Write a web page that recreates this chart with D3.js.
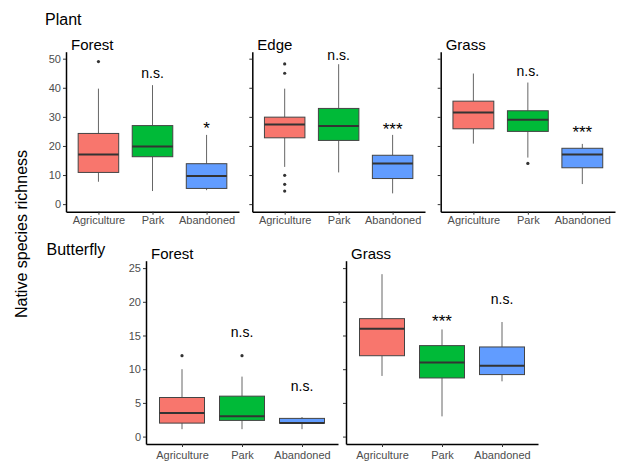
<!DOCTYPE html>
<html>
<head>
<meta charset="utf-8">
<script src="https://cdn.jsdelivr.net/npm/d3@7"></script>
<style>
  body { margin: 0; background: #fff; }
  svg { font-family: "Liberation Sans", Arial, sans-serif; }
</style>
</head>
<body>
<div id="chart"></div>
<script>
var width = 619;
var height = 464;

var groups = ["Agriculture", "Park", "Abandoned"];
var colors = ["#F8766D", "#00BA38", "#619CFF"];

// five numbers per group: lower whisker, q1, median, q3, upper whisker
var plantForestStats = [[7.7, 10.9, 17.1, 24.3, 39.7], [4.5, 16.3, 19.8, 27.0, 40.9], [4.8, 5.4, 9.7, 13.9, 23.8]];
var plantForestOut = [[49], [], []];
var plantForestSig = ["", "n.s.", "*"];
var plantForestSigY = [null, 43.5, 24.2];

var plantEdgeStats = [[12.8, 22.8, 27.4, 29.9, 39.7], [10.9, 21.9, 26.9, 32.9, 48.1], [3.7, 8.8, 14.0, 16.8, 23.8]];
var plantEdgeOut = [[48.2, 45.0, 9.9, 6.8, 4.5], [], []];
var plantEdgeSig = ["", "n.s.", "***"];
var plantEdgeSigY = [null, 49.5, 23.8];

var plantGrassStats = [[20.8, 25.9, 31.5, 35.4, 44.9], [16.0, 25.0, 29.0, 32.1, 41.8], [6.9, 12.5, 17.1, 19.2, 20.7]];
var plantGrassOut = [[], [14.0], []];
var plantGrassSig = ["", "n.s.", "***"];
var plantGrassSigY = [null, 44.1, 22.7];

var butterForestStats = [[1.1, 2.0, 3.5, 5.8, 10.0], [1.1, 2.4, 3.0, 6.0, 8.9], [1.1, 2.0, 2.0, 2.7, 2.9]];
var butterForestOut = [[12], [12], []];
var butterForestSig = ["", "n.s.", "n.s."];
var butterForestSigY = [null, 14.8, 6.7];

var butterGrassStats = [[9.0, 12.0, 16.0, 17.5, 24.1], [3.0, 8.7, 11.0, 13.5, 15.9], [8.2, 9.2, 10.5, 13.3, 17.0]];
var butterGrassOut = [[], [], []];
var butterGrassSig = ["", "***", "n.s."];
var butterGrassSigY = [null, 16.2, 19.7];

var plantTicks = [0, 10, 20, 30, 40, 50];
var butterTicks = [0, 5, 10, 15, 20, 25];

var svg = d3.select("#chart").append("svg")
  .attr("width", width)
  .attr("height", height);

function drawPanel(p) {
  var x = d3.scalePoint().domain(groups).range([p.x0, p.x1]).padding(0.6);
  var y = d3.scaleLinear().domain(p.domain).range([p.y1, p.y0]);
  var bw = x.step() * 0.75;
  var g = svg.append("g");

  var rows = groups.map(function(k, i) {
    return { key: k, s: p.stats[i], out: p.out[i], sig: p.sig[i], sigY: p.sigY[i], col: colors[i] };
  });

  var box = g.selectAll(".box").data(rows).enter().append("g");
  box.append("line")
    .attr("x1", d => x(d.key)).attr("x2", d => x(d.key))
    .attr("y1", d => y(d.s[0])).attr("y2", d => y(d.s[1]))
    .attr("stroke", "#666").attr("stroke-width", 1);
  box.append("line")
    .attr("x1", d => x(d.key)).attr("x2", d => x(d.key))
    .attr("y1", d => y(d.s[3])).attr("y2", d => y(d.s[4]))
    .attr("stroke", "#666").attr("stroke-width", 1);
  box.append("rect")
    .attr("x", d => x(d.key) - bw / 2)
    .attr("width", bw)
    .attr("y", d => y(d.s[3]))
    .attr("height", d => y(d.s[1]) - y(d.s[3]))
    .attr("fill", d => d.col)
    .attr("stroke", "#444").attr("stroke-width", 1);
  box.append("line")
    .attr("x1", d => x(d.key) - bw / 2).attr("x2", d => x(d.key) + bw / 2)
    .attr("y1", d => y(d.s[2])).attr("y2", d => y(d.s[2]))
    .attr("stroke", "#333").attr("stroke-width", 2);
  box.selectAll("circle").data(d => d.out.map(v => ({ key: d.key, v: v })))
    .enter().append("circle")
    .attr("cx", d => x(d.key)).attr("cy", d => y(d.v))
    .attr("r", 1.6).attr("fill", "#333");
  box.filter(d => d.sig !== "").append("text")
    .attr("x", d => x(d.key)).attr("y", d => y(d.sigY))
    .attr("text-anchor", "middle")
    .attr("font-size", d => d.sig.indexOf("*") >= 0 ? 17 : 14)
    .attr("fill", "#000")
    .text(d => d.sig);

  var ya = g.append("g").attr("transform", "translate(" + p.x0 + ",0)")
    .call(d3.axisLeft(y).tickValues(p.ticks).tickSize(3).tickSizeOuter(0).tickPadding(2)
      .tickFormat(p.labels ? d3.format("d") : ""));
  var xa = g.append("g").attr("transform", "translate(0," + p.y1 + ")")
    .call(d3.axisBottom(x).tickSize(3).tickSizeOuter(0).tickPadding(p.xpad));
  [ya, xa].forEach(function(a) {
    a.select(".domain").attr("stroke", "#000").attr("stroke-width", 1.5);
    a.selectAll(".tick line").attr("stroke", "#333");
    a.selectAll(".tick text").attr("fill", "#4d4d4d").attr("font-size", 11)
      .attr("font-family", "Liberation Sans, Arial, sans-serif");
  });

  g.append("text").attr("x", p.x0 + 5).attr("y", p.y0 - 2)
    .attr("font-size", 15).attr("fill", "#000").text(p.title);
}

var panels = [
  { title: "Forest", x0: 66, x1: 239, y0: 51.7, y1: 211.7, domain: [-2.6, 52.4], ticks: plantTicks, labels: true, xpad: 2,
    stats: plantForestStats, out: plantForestOut, sig: plantForestSig, sigY: plantForestSigY },
  { title: "Edge", x0: 252.3, x1: 425, y0: 51.7, y1: 211.7, domain: [-2.6, 52.4], ticks: plantTicks, labels: false, xpad: 2,
    stats: plantEdgeStats, out: plantEdgeOut, sig: plantEdgeSig, sigY: plantEdgeSigY },
  { title: "Grass", x0: 440.7, x1: 615, y0: 51.7, y1: 211.7, domain: [-2.6, 52.4], ticks: plantTicks, labels: false, xpad: 2,
    stats: plantGrassStats, out: plantGrassOut, sig: plantGrassSig, sigY: plantGrassSigY },
  { title: "Forest", x0: 146, x1: 338, y0: 260.7, y1: 444, domain: [-1.1, 26.1], ticks: butterTicks, labels: true, xpad: 4,
    stats: butterForestStats, out: butterForestOut, sig: butterForestSig, sigY: butterForestSigY },
  { title: "Grass", x0: 346, x1: 538, y0: 260.7, y1: 444, domain: [-1.1, 26.1], ticks: butterTicks, labels: false, xpad: 4,
    stats: butterGrassStats, out: butterGrassOut, sig: butterGrassSig, sigY: butterGrassSigY }
];
panels.forEach(drawPanel);

svg.append("text").attr("x", 45).attr("y", 25).attr("font-size", 16).text("Plant");
svg.append("text").attr("x", 46.5).attr("y", 255).attr("font-size", 16).text("Butterfly");
svg.append("text")
  .attr("transform", "translate(27,234) rotate(-90)")
  .attr("text-anchor", "middle")
  .attr("font-size", 16)
  .text("Native species richness");
</script>
</body>
</html>
